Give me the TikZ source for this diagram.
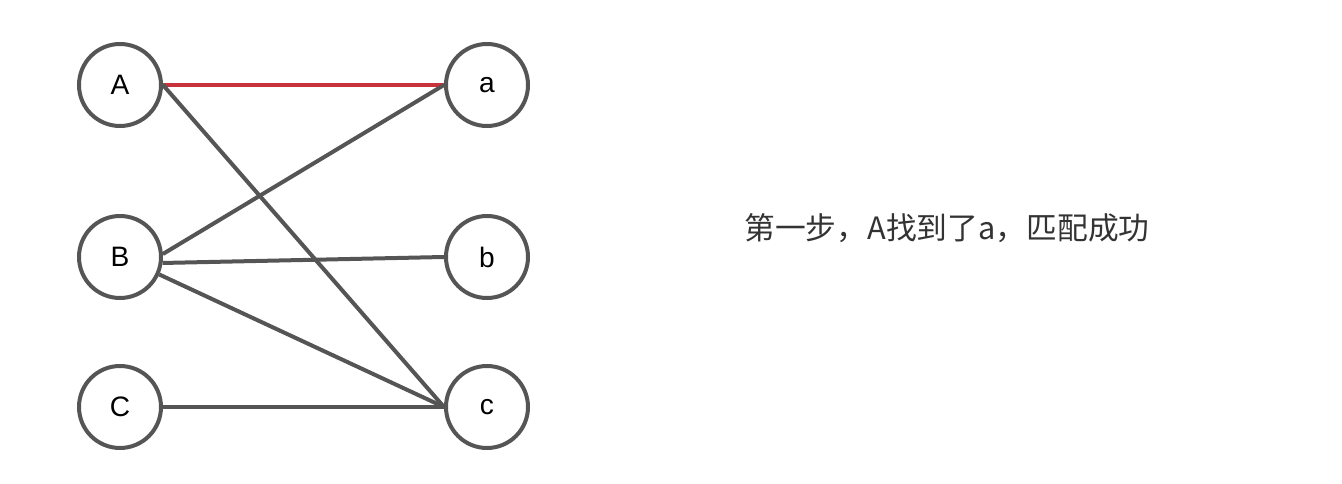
\documentclass[tikz,border=0pt]{standalone}
\usepackage{fontspec}
\setmainfont{Liberation Sans}
\newfontfamily\cjk{Noto Sans CJK SC}
\usepackage{xcolor}
\usepackage{tikz}
\usetikzlibrary{positioning}
\definecolor{edgegray}{HTML}{555555}
\definecolor{matchred}{HTML}{C8323C}
\tikzset{
    vertex/.style={circle, minimum size=1.64cm, inner sep=0pt, line width=0.08cm, draw=edgegray, fill=white, font=\fontsize{16}{19}\selectfont},
    edge/.style={line width=0.08cm, draw=edgegray},
    matched/.style={line width=0.08cm, draw=matchred},
    caption/.style={font=\cjk\fontsize{17.5}{21}\selectfont, text=black!80}
}

\begin{document}
\begin{tikzpicture}
    \useasboundingbox (0,0) rectangle (26.84,-9.68);
    % left side
    \node (A) [vertex] at (2.4,-1.7) {A};
    \node (B) [vertex, below=1.72cm of A] {B};
    \node (C) [vertex, below=1.28cm of B] {C};
    % right side
    \node (a) [vertex, right=5.62cm of A] {a};
    \node (b) [vertex, right=5.62cm of B] {b};
    \node (c) [vertex, right=5.62cm of C] {c};
    \node (note) [caption] at (18.94,-4.56) {第一步，A找到了a，匹配成功};

    \draw [matched] (A.east) -- (a.west);
    \draw [edge] (A.east) -- (c.west);
    \draw [edge] (B.4) -- (a.west);
    \draw [edge] (B.-8) -- (b.west);
    \draw [edge] (B.-24) -- (c.west);
    \draw [edge] (C.east) -- (c.west);
\end{tikzpicture}
\end{document}
